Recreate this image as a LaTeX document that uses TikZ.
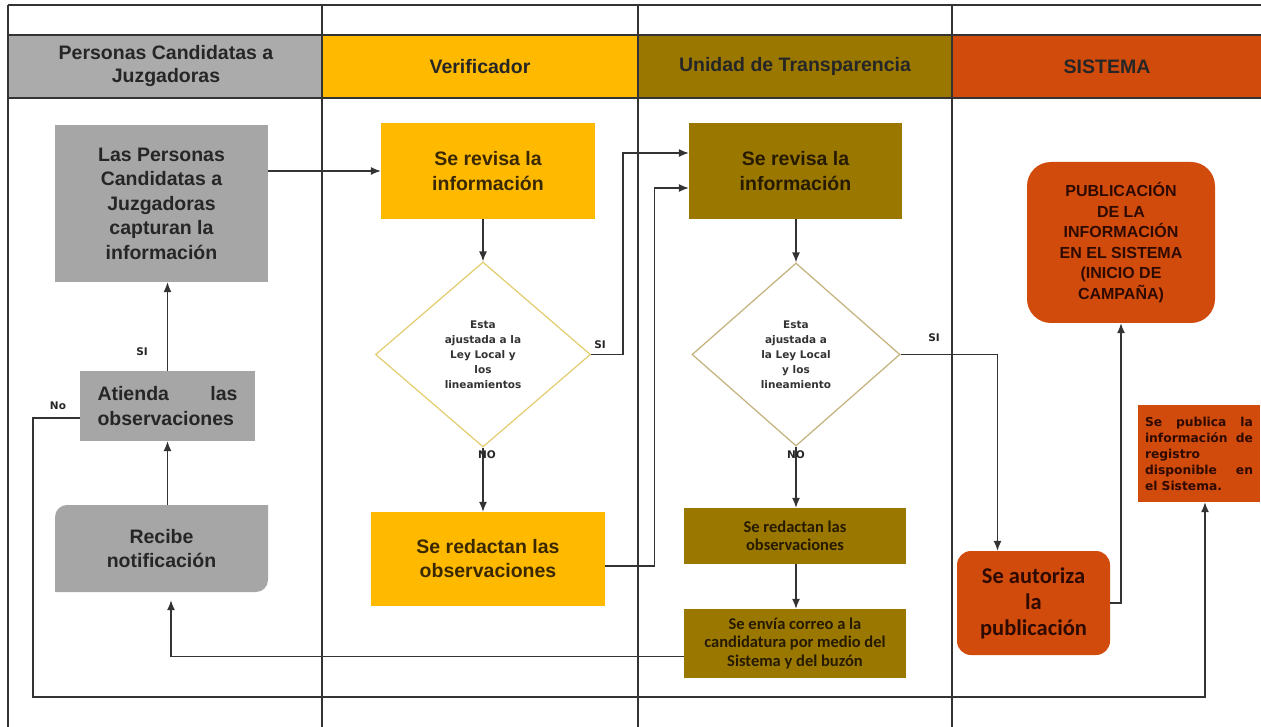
\documentclass[tikz,border=0pt]{standalone}
\usepackage{fontspec}
\setmainfont{Liberation Sans}
\newfontfamily\djv{DejaVu Sans}
\newfontfamily\carl{Carlito}
\usetikzlibrary{shapes.geometric,arrows.meta}
\definecolor{hgray}{HTML}{ABABAB}
\definecolor{bgray}{HTML}{A6A6A6}
\definecolor{vyel}{HTML}{FFBA00}
\definecolor{olivec}{HTML}{9A7800}
\definecolor{sorange}{HTML}{D14B0C}
\definecolor{linec}{HTML}{333333}
\definecolor{txt}{HTML}{262626}
\definecolor{ytxt}{HTML}{3A2800}
\definecolor{otxt}{HTML}{261A00}
\definecolor{rtxt}{HTML}{2E0A00}
\definecolor{dyel}{HTML}{E3CC6E}
\definecolor{dtan}{HTML}{C4B07A}
\begin{document}
\begin{tikzpicture}[x=1pt,y=-1pt,
  tab/.style={draw=linec,line width=1.3pt},
  hdr/.style={inner sep=0pt,align=center,text=txt,font=\bfseries\fontsize{19.5}{23}\selectfont},
  box/.style={inner sep=0pt,align=center,text=txt,font=\bfseries\fontsize{19.5}{24.5}\selectfont},
  dia/.style={shape=diamond,inner sep=0pt,align=center,line width=1.2pt,text=linec,
     font=\djv\bfseries\fontsize{10.5}{15}\selectfont},
  small/.style={inner sep=0pt,align=center,text=otxt,font=\carl\bfseries\fontsize{16.5}{18.5}\selectfont},
  conn/.style={draw=linec,line width=1.3pt,-{Latex[length=10pt,width=8pt]}},
  lbl/.style={inner sep=0pt,text=txt,font=\djv\bfseries\fontsize{10.5}{12}\selectfont}]
\useasboundingbox (0,0) rectangle (1261,727);
\fill[white] (0,0) rectangle (1261,727);
% header band
\fill[hgray] (8,35) rectangle (322,98);
\fill[vyel] (322,35) rectangle (638,98);
\fill[olivec] (638,35) rectangle (952,98);
\fill[sorange] (952,35) rectangle (1261,98);
\node[hdr] (h1) at (166,66.5) {Personas Candidatas a\\Juzgadoras};
\node[hdr] (h2) at (480,66.5) {Verificador};
\node[hdr] (h3) at (795,66.5) {Unidad de Transparencia};
\node[hdr] (h4) at (1107,66.5) {SISTEMA};
% table lines
\draw[tab] (8,5) -- (1261,5);
\draw[tab] (8,35) -- (1261,35);
\draw[tab] (8,98) -- (1261,98);
\draw[tab] (8,5) -- (8,727);
\draw[tab] (322,5) -- (322,727);
\draw[tab] (638,5) -- (638,727);
\draw[tab] (952,5) -- (952,727);
% column 1
\node[box,fill=bgray,minimum width=213pt,minimum height=157pt] (A) at (161.5,203.5)
  {Las Personas\\Candidatas a\\Juzgadoras\\capturan la\\información};
\node[box,fill=bgray,minimum width=175pt,minimum height=70pt,text width=140pt,align=left] (B) at (167.5,406)
  {\makebox[140pt][l]{Atienda\hfill las}\\observaciones};
\fill[bgray] (55,592) [rounded corners=12pt] -- (55,505) [sharp corners] -- (268,505)
  [rounded corners=12pt] -- (268,592) [sharp corners] -- cycle;
\node[box,minimum width=213pt,minimum height=87pt] (C) at (161.5,548.5) {Recibe\\notificación};
% column 2
\node[box,fill=vyel,text=ytxt,minimum width=214pt,minimum height=96pt,font=\bfseries\fontsize{19.5}{25}\selectfont] (D) at (488,171)
  {Se revisa la\\información};
\node[dia,draw=dyel,minimum width=215pt,minimum height=185pt] (V) at (483,354.5)
  {Esta\\ajustada a la\\Ley Local y\\los\\lineamientos};
\node[box,fill=vyel,text=ytxt,minimum width=234pt,minimum height=94pt,font=\bfseries\fontsize{19.5}{24}\selectfont] (E) at (488,559)
  {Se redactan las\\observaciones};
% column 3
\node[box,fill=olivec,text=otxt,minimum width=213pt,minimum height=96pt,font=\bfseries\fontsize{19.5}{25}\selectfont] (F) at (795.5,171)
  {Se revisa la\\información};
\node[dia,draw=dtan,minimum width=208pt,minimum height=183pt] (U) at (796,354.5)
  {Esta\\ajustada a\\la Ley Local\\y los\\lineamiento};
\node[small,fill=olivec,minimum width=222pt,minimum height=56pt] (H) at (795,536)
  {Se redactan las\\observaciones};
\node[small,fill=olivec,minimum width=222pt,minimum height=69pt] (I) at (795,643.5)
  {Se envía correo a la\\candidatura por medio del\\Sistema y del buzón};
% column 4
\node[box,fill=sorange,text=rtxt,rounded corners=14pt,minimum width=153pt,minimum height=104pt,
  font=\carl\bfseries\fontsize{22.5}{26}\selectfont] (G) at (1033.5,603)
  {Se autoriza\\la\\publicación};
\node[box,fill=sorange,text=rtxt,rounded corners=24pt,minimum width=188pt,minimum height=161pt,
  font=\bfseries\fontsize{16}{20.5}\selectfont] (K) at (1121,242.5)
  {PUBLICACIÓN\\DE LA\\INFORMACIÓN\\EN EL SISTEMA\\(INICIO DE\\CAMPAÑA)};
\node[box,fill=sorange,text=rtxt,minimum width=122pt,minimum height=97pt,text width=108pt,align=left,
  font=\djv\bfseries\fontsize{12.3}{16}\selectfont] (J) at (1199,453.5)
  {\makebox[108pt][l]{Se\hfill publica\hfill la}\\\makebox[108pt][l]{información\hfill de}\\registro\\\makebox[108pt][l]{disponible\hfill en}\\el Sistema.};
% connectors
\draw[conn] (A.east |- D.west) -- (D.west);
\draw[conn] (V.north |- D.south) -- (V.north);
\draw[conn] (V.south) -- (V.south |- E.north);
\draw[conn] (V.east) -- ++(32,0) |- ([yshift=18pt]F.west);
\draw[conn] ([yshift=-7pt]E.east) -- ++(49,0) |- ([yshift=-17pt]F.west);
\draw[conn] (U.north |- F.south) -- (U.north);
\draw[conn] (U.south) -- (U.south |- H.north);
\draw[conn] (U.south |- H.south) -- (U.south |- I.north);
\draw[conn] (U.east) -| ([xshift=-36pt]G.north);
\draw[conn] (G.east) -| (K.south);
\draw[conn,shorten >=8pt] ([yshift=-13pt]I.west) -| ([xshift=9.5pt]C.south);
\draw[conn] (B.south |- C.north) -- (B.south);
\draw[conn] (B.north) -- (B.north |- A.south);
\draw[conn] ([yshift=-12pt]B.west) -| (33,697) -| ([xshift=6pt]J.south);
% labels
\node[lbl] (l1) at (142,352) {SI};
\node[lbl] (l2) at (58,406) {No};
\node[lbl] (l3) at (600,345) {SI};
\node[lbl] (l4) at (487,455) {NO};
\node[lbl] (l5) at (934,338) {SI};
\node[lbl] (l6) at (796,455) {NO};
\end{tikzpicture}
\end{document}
